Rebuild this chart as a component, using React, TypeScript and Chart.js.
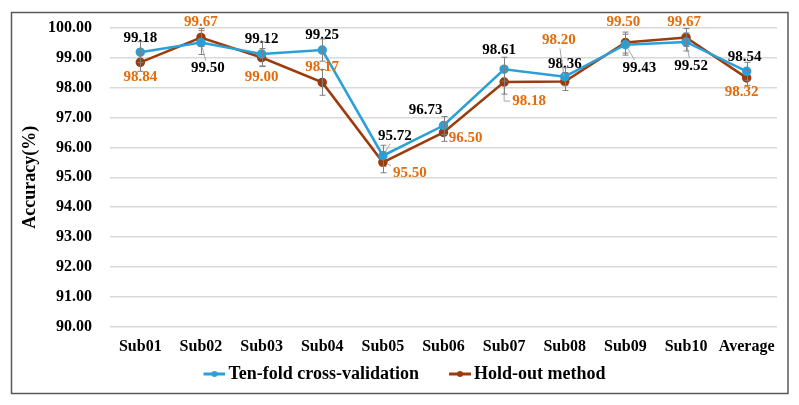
import React, { useEffect, useRef } from "react";
import { Chart, registerables } from "chart.js";

Chart.register(...registerables);

const categories = ["Sub01", "Sub02", "Sub03", "Sub04", "Sub05", "Sub06", "Sub07", "Sub08", "Sub09", "Sub10", "Average"];
const tenFold = [99.18, 99.5, 99.12, 99.25, 95.72, 96.73, 98.61, 98.36, 99.43, 99.52, 98.54];
const holdOut = [98.84, 99.67, 99.0, 98.17, 95.5, 96.5, 98.18, 98.2, 99.5, 99.67, 98.32];
const tenFoldErr = [0.35, 0.4, 0.4, 0.37, 0.35, 0.3, 0.4, 0.3, 0.35, 0.3, 0.3];
const holdOutErr = [0.3, 0.3, 0.3, 0.43, 0.35, 0.3, 0.4, 0.3, 0.35, 0.3, 0.25];
const seriesNames = ["Ten-fold cross-validation", "Hold-out method"];
const yMin = 90;
const yMax = 100;
const yStep = 1;

const FONT = "'Liberation Serif', 'Times New Roman', serif";
const BLUE = "#2A9FD8";
const BROWN = "#9C3B0C";
const ORANGE = "#E46C0A";
const ERR = "#7F7F7F";

// label placement: [dx, dy, leader type] per dataset per category (0 none, 1 straight, 2 L-shape)
const LABEL_OFFSETS: number[][][] = [
  [[0, -14, 0], [7, 26, 1], [0, -15, 0], [0, -15, 0], [12, -20, 1], [-18, -15, 0], [-5, -19, 0], [0, -13, 0], [14, 23, 1], [5, 24, 1], [-2, -14, 0]],
  [[0, 15, 0], [0, -15, 0], [0, 20, 0], [0, -15, 0], [27, 11, 1], [22, 6, 0], [25, 19, 2], [-6, -41, 1], [-2, -20, 0], [-2, -15, 0], [-5, 14, 0]],
];
const LABEL_COLORS = ["#000000", ORANGE];
const ERRORS = [tenFoldErr, holdOutErr];

function legendMarker(color: string): HTMLCanvasElement {
  const W = 36 + 12;
  const c = document.createElement("canvas");
  c.width = W;
  c.height = 8;
  const ctx = c.getContext("2d")!;
  ctx.strokeStyle = color;
  ctx.lineWidth = 3;
  ctx.beginPath();
  ctx.moveTo(W - 22, 4);
  ctx.lineTo(W, 4);
  ctx.stroke();
  ctx.fillStyle = color;
  ctx.beginPath();
  ctx.arc(W - 11, 4, 3, 0, Math.PI * 2);
  ctx.fill();
  return c;
}

const decorPlugin = {
  id: "decor",
  beforeDraw(chart: any) {
    const { ctx } = chart;
    ctx.save();
    ctx.fillStyle = "#ffffff";
    ctx.fillRect(0, 0, chart.width, chart.height);
    ctx.strokeStyle = "#595959";
    ctx.lineWidth = 1.5;
    ctx.strokeRect(11.5, 12.5, 776.5, 381);
    ctx.restore();
  },
  afterDatasetsDraw(chart: any) {
    const { ctx } = chart;
    const yScale = chart.scales.y;
    ctx.save();
    ctx.font = `bold 15px ${FONT}`;
    ctx.textAlign = "center";
    ctx.textBaseline = "middle";
    chart.data.datasets.forEach((ds: any, di: number) => {
      const meta = chart.getDatasetMeta(di);
      meta.data.forEach((pt: any, i: number) => {
        const [dx, dy, leader] = LABEL_OFFSETS[di][i];
        const text = (ds.data[i] as number).toFixed(2);
        const lx = pt.x + dx;
        const ly = pt.y + dy;
        ctx.fillStyle = LABEL_COLORS[di];
        ctx.fillText(text, lx, ly);
        if (leader) {
          const w = ctx.measureText(text).width / 2 + 2;
          const h = 8;
          ctx.strokeStyle = "#A6A6A6";
          ctx.lineWidth = 1;
          ctx.beginPath();
          if (leader === 2) {
            ctx.moveTo(pt.x, pt.y + 6);
            ctx.lineTo(pt.x, ly);
            ctx.lineTo(lx - w, ly);
          } else {
            const vx = lx - pt.x;
            const vy = ly - pt.y;
            const len = Math.hypot(vx, vy);
            const ux = vx / len;
            const uy = vy / len;
            const tEdge = Math.min(Math.abs(vx) > 0.01 ? w / Math.abs(vx) : 1e9, Math.abs(vy) > 0.01 ? h / Math.abs(vy) : 1e9);
            const ex = lx - vx * tEdge;
            const ey = ly - vy * tEdge;
            ctx.moveTo(pt.x + ux * 5, pt.y + uy * 5);
            ctx.lineTo(ex, ey);
          }
          ctx.stroke();
        }
      });
    });
    // error bars
    ctx.strokeStyle = ERR;
    ctx.lineWidth = 1;
    chart.data.datasets.forEach((ds: any, di: number) => {
      const meta = chart.getDatasetMeta(di);
      meta.data.forEach((pt: any, i: number) => {
        const v = ds.data[i] as number;
        const e = ERRORS[di][i];
        const top = yScale.getPixelForValue(v + e);
        const bot = yScale.getPixelForValue(v - e);
        const x = Math.round(pt.x) + 0.5;
        ctx.beginPath();
        ctx.moveTo(x, top);
        ctx.lineTo(x, bot);
        ctx.moveTo(x - 3, top);
        ctx.lineTo(x + 3, top);
        ctx.moveTo(x - 3, bot);
        ctx.lineTo(x + 3, bot);
        ctx.stroke();
      });
    });
    ctx.restore();
  },
};

export default function App() {
  const canvasRef = useRef<HTMLCanvasElement>(null);

  useEffect(() => {
    const canvas = canvasRef.current;
    if (!canvas) return;
    const markers = [legendMarker(BLUE), legendMarker(BROWN)];
    const chart = new Chart(canvas, {
      type: "line",
      data: {
        labels: categories,
        datasets: [
          {
            label: seriesNames[0],
            data: tenFold,
            borderColor: BLUE,
            backgroundColor: BLUE,
            borderWidth: 2.5,
            pointRadius: 3.5,
            pointBackgroundColor: BLUE,
            pointBorderColor: BLUE,
            tension: 0,
          },
          {
            label: seriesNames[1],
            data: holdOut,
            borderColor: BROWN,
            backgroundColor: BROWN,
            borderWidth: 2.5,
            pointRadius: 3.5,
            pointBackgroundColor: BROWN,
            pointBorderColor: BROWN,
            tension: 0,
          },
        ],
      },
      options: {
        responsive: false,
        animation: false,
        devicePixelRatio: 1,
        layout: { padding: { left: 12, right: 22, top: 27, bottom: 12 } },
        scales: {
          x: {
            offset: true,
            grid: { display: false, drawTicks: false },
            border: { display: false },
            ticks: {
              color: "#000",
              padding: 10,
              maxRotation: 0,
              autoSkip: false,
              font: { family: FONT, size: 16, weight: "bold" },
            },
            afterFit: (s: any) => {
              s.height = 28;
            },
          },
          y: {
            min: yMin,
            max: yMax,
            grid: { color: "#D9D9D9", lineWidth: 1.5, drawTicks: false },
            border: { display: false },
            ticks: {
              stepSize: yStep,
              color: "#000",
              padding: 18,
              font: { family: FONT, size: 16, weight: "bold" },
              callback: (v: any) => Number(v).toFixed(2),
            },
            title: {
              display: true,
              text: "Accuracy(%)",
              color: "#000",
              padding: { top: 8, bottom: 0 },
              font: { family: FONT, size: 18, weight: "bold" },
            },
            afterFit: (s: any) => {
              s.width = 98;
            },
          },
        },
        plugins: {
          tooltip: { enabled: false },
          legend: {
            position: "bottom",
            labels: {
              usePointStyle: true,
              pointStyleWidth: 36,
              padding: 10,
              color: "#000",
              font: { family: FONT, size: 18, weight: "bold" },
              generateLabels: (ch: any) =>
                ch.data.datasets.map((ds: any, i: number) => ({
                  text: ds.label,
                  pointStyle: markers[i],
                  fillStyle: ds.borderColor,
                  strokeStyle: ds.borderColor,
                  lineWidth: 0,
                  hidden: false,
                  datasetIndex: i,
                  fontColor: "#000",
                })),
            },
          },
        },
      },
      plugins: [decorPlugin],
    } as any);
    return () => chart.destroy();
  }, []);

  return (
    <div style={{ position: "fixed", left: 0, top: 0, width: 799, height: 405, background: "#fff" }}>
      <canvas ref={canvasRef} width={799} height={405} style={{ display: "block" }} />
    </div>
  );
}
